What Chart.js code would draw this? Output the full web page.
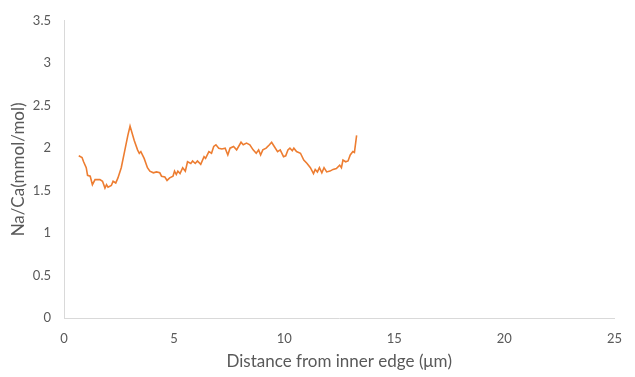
<!DOCTYPE html>
<html>
<head>
<meta charset="utf-8">
<script src="https://cdn.jsdelivr.net/npm/chart.js@4"></script>
<style>
  html, body { margin: 0; padding: 0; background: #ffffff; }
  #wrap { width: 635px; height: 377px; }
</style>
</head>
<body>
<div id="wrap"><canvas id="c" width="635" height="377"></canvas></div>
<script>
// Na/Ca profile across the section
const distance = [
  0.67, 0.82, 0.89, 1.01, 1.07, 1.19, 1.29, 1.41, 1.63, 1.75, 1.86, 1.93, 2.00, 2.15, 2.23, 2.35,
  2.45, 2.60, 2.75, 2.90, 3.00, 3.19, 3.34, 3.42, 3.49, 3.64, 3.79, 3.90, 4.06, 4.20, 4.35, 4.43,
  4.58, 4.68, 4.80, 4.95, 5.02, 5.10, 5.17, 5.27, 5.39, 5.51, 5.61, 5.76, 5.84, 5.96, 6.06, 6.21,
  6.36, 6.43, 6.58, 6.70, 6.80, 6.90, 7.03, 7.17, 7.32, 7.44, 7.54, 7.70, 7.84, 8.04, 8.14, 8.29,
  8.44, 8.59, 8.73, 8.84, 8.93, 9.03, 9.18, 9.33, 9.43, 9.55, 9.70, 9.82, 9.97, 10.07, 10.17, 10.26,
  10.37, 10.44, 10.56, 10.74, 10.89, 11.04, 11.19, 11.33, 11.41, 11.51, 11.60, 11.71, 11.81, 11.93,
  12.08, 12.22, 12.37, 12.52, 12.60, 12.67, 12.79, 12.90, 13.00, 13.12, 13.19, 13.29
];
const naCa = [
  1.91, 1.89, 1.84, 1.77, 1.68, 1.67, 1.57, 1.63, 1.63, 1.61, 1.53, 1.57, 1.54, 1.56, 1.61, 1.59,
  1.65, 1.77, 1.96, 2.15, 2.26, 2.09, 1.98, 1.94, 1.96, 1.88, 1.77, 1.73, 1.71, 1.72, 1.71, 1.67,
  1.66, 1.62, 1.65, 1.67, 1.73, 1.69, 1.73, 1.70, 1.77, 1.73, 1.84, 1.82, 1.85, 1.82, 1.85, 1.81,
  1.90, 1.88, 1.96, 1.94, 2.02, 2.04, 2.00, 1.99, 2.00, 1.92, 2.00, 2.02, 1.98, 2.07, 2.04, 2.06,
  2.04, 1.98, 1.94, 1.98, 1.92, 1.98, 2.00, 2.04, 2.07, 2.02, 1.96, 1.98, 1.90, 1.91, 1.98, 2.00,
  1.97, 2.00, 1.96, 1.94, 1.86, 1.82, 1.77, 1.70, 1.75, 1.72, 1.77, 1.71, 1.77, 1.72,
  1.73, 1.75, 1.76, 1.80, 1.77, 1.86, 1.84, 1.85, 1.92, 1.96, 1.95, 2.15
];
const xTicks = [0, 5, 10, 15, 20, 25];
const yTicks = [0, 0.5, 1, 1.5, 2, 2.5, 3, 3.5];

const points = distance.map((d, i) => ({ x: d, y: naCa[i] }));
const tickColor = '#595959';
const axisColor = '#d9d9d9';
const fontFamily = 'Lato, "Open Sans", sans-serif';

new Chart(document.getElementById('c'), {
  type: 'line',
  data: {
    datasets: [{
      data: points,
      borderColor: '#ed7d31',
      borderWidth: 1.6,
      pointRadius: 0,
      tension: 0,
      fill: false
    }]
  },
  options: {
    responsive: false,
    animation: false,
    layout: { padding: { top: 15, right: 10, left: 8, bottom: 5 } },
    plugins: { legend: { display: false }, tooltip: { enabled: false } },
    scales: {
      x: {
        type: 'linear',
        min: 0, max: 25,
        afterBuildTicks: s => { s.ticks = xTicks.map(v => ({ value: v })); },
        afterFit: s => { s.height = 54; },
        grid: { display: false, drawTicks: false },
        border: { display: true, color: axisColor, width: 1 },
        ticks: { color: tickColor, font: { family: fontFamily, size: 13 }, padding: 13,
                 callback: v => String(v) },
        title: {
          display: true,
          text: 'Distance from inner edge (\u03bcm)',
          color: tickColor,
          font: { family: fontFamily, size: 17 },
          padding: { top: 2, bottom: 0 }
        }
      },
      y: {
        min: 0, max: 3.5,
        afterBuildTicks: s => { s.ticks = yTicks.map(v => ({ value: v })); },
        afterFit: s => { s.width = 56; },
        grid: { display: false, drawTicks: false },
        border: { display: true, color: axisColor, width: 1 },
        ticks: { color: tickColor, font: { family: fontFamily, size: 13 }, padding: 13,
                 callback: v => String(v) },
        title: {
          display: true,
          text: 'Na/Ca(mmol/mol)',
          color: tickColor,
          font: { family: fontFamily, size: 17 },
          padding: { top: 0, bottom: 2 }
        }
      }
    }
  }
});
</script>
</body>
</html>
